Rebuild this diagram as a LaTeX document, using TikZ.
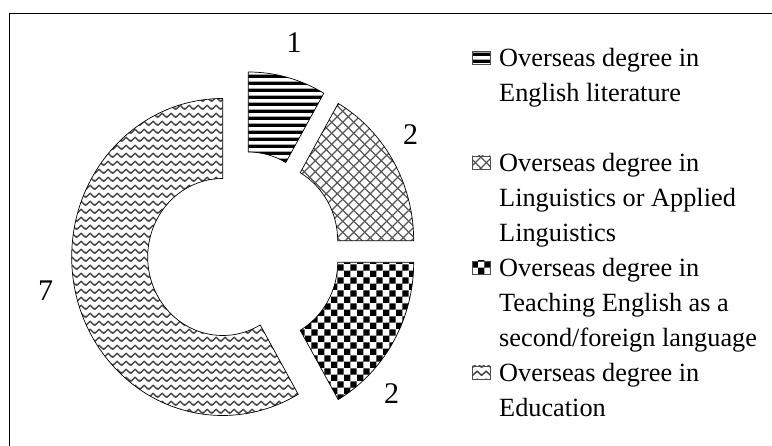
\documentclass[tikz,border=0pt]{standalone}
\usepackage{fontspec}
\setmainfont{Liberation Serif}
\usetikzlibrary{patterns}

\pgfdeclarepatternformonly{hstripes}{\pgfpoint{0pt}{0pt}}{\pgfpoint{8pt}{6.6pt}}{\pgfpoint{8pt}{6.6pt}}{%
  \pgfpathrectangle{\pgfpoint{-1pt}{0pt}}{\pgfpoint{10pt}{3.6pt}}\pgfusepath{fill}}
\pgfdeclarepatternformonly{xhatch}{\pgfpoint{0pt}{0pt}}{\pgfpoint{10.7pt}{10.7pt}}{\pgfpoint{10.7pt}{10.7pt}}{%
  \pgfsetlinewidth{1.3pt}%
  \pgfpathmoveto{\pgfpoint{-1pt}{-1pt}}\pgfpathlineto{\pgfpoint{11.7pt}{11.7pt}}%
  \pgfpathmoveto{\pgfpoint{-1pt}{11.7pt}}\pgfpathlineto{\pgfpoint{11.7pt}{-1pt}}%
  \pgfusepath{stroke}}
\pgfdeclarepatternformonly{checks}{\pgfpoint{0pt}{0pt}}{\pgfpoint{13.3pt}{13.3pt}}{\pgfpoint{13.3pt}{13.3pt}}{%
  \pgfpathrectangle{\pgfpoint{0pt}{0pt}}{\pgfpoint{6.65pt}{6.65pt}}%
  \pgfpathrectangle{\pgfpoint{6.65pt}{6.65pt}}{\pgfpoint{6.65pt}{6.65pt}}%
  \pgfusepath{fill}}
\pgfdeclarepatternformonly{zigzag}{\pgfpoint{0pt}{0pt}}{\pgfpoint{8.6pt}{7.7pt}}{\pgfpoint{8.6pt}{7.7pt}}{%
  \pgfsetlinewidth{1.5pt}%
  \pgfpathmoveto{\pgfpoint{-4.3pt}{5.8pt}}%
  \pgfpathlineto{\pgfpoint{0pt}{1.9pt}}%
  \pgfpathlineto{\pgfpoint{4.3pt}{5.8pt}}%
  \pgfpathlineto{\pgfpoint{8.6pt}{1.9pt}}%
  \pgfpathlineto{\pgfpoint{12.9pt}{5.8pt}}%
  \pgfusepath{stroke}}

\newcommand\ringseg[4]{%
  ([shift={(#1pt,#2pt)}]#3:151pt and 158.5pt)
  arc[start angle=#3,end angle=#4,x radius=151pt,y radius=158.5pt]
  -- ([shift={(#1pt,#2pt)}]#4:75pt and 78.5pt)
  arc[start angle=#4,end angle=#3,x radius=75pt,y radius=78.5pt] -- cycle}

\tikzset{
  seg/.style={draw=black,line width=0.7pt},
  fillA/.style={pattern=hstripes,pattern color=black},
  fillB/.style={pattern=xhatch,pattern color=black!66},
  fillC/.style={pattern=checks,pattern color=black},
  fillD/.style={pattern=zigzag,pattern color=black!72},
  key/.style={draw=black!70,line width=0.6pt},
  lg/.style={anchor=base west,inner sep=0pt,font=\fontsize{26.3}{35}\selectfont},
  num/.style={inner sep=0pt,font=\fontsize{30}{36}\selectfont}
}

\begin{document}
\begin{tikzpicture}[x=1pt,y=1pt]
\useasboundingbox (0,0) rectangle (772,446);
\draw[line width=1pt] (9.3,-10) rectangle (790,432.7);

% donut segments
\path[seg,fillA] \ringseg{248.3}{215.5}{60}{90};
\path[seg,fillB] \ringseg{262.7}{205.3}{0}{60};
\path[seg,fillC] \ringseg{262.7}{183.7}{-60}{0};
\path[seg,fillD] \ringseg{222.7}{189}{90}{300};

% value labels
\node[num] (v1) at (294,403.5) {1};
\node[num] (v2) at (410.5,311.5) {2};
\node[num] (v3) at (391.7,52) {2};
\node[num] (v4) at (45.5,155.2) {7};

% legend
\path[key,fillA] (472,382) rectangle (490,395);
\node[lg] (l1a) at (499,379) {Overseas degree in};
\node[lg] (l1b) at (499,344) {English literature};

\path[key,fillB] (472,277) rectangle (490,290);
\node[lg] (l2a) at (499,274) {Overseas degree in};
\node[lg] (l2b) at (499,239) {Linguistics or Applied};
\node[lg] (l2c) at (499,204) {Linguistics};

\path[key,fillC] (472,172) rectangle (490,185);
\node[lg] (l3a) at (499,169) {Overseas degree in};
\node[lg] (l3b) at (499,134) {Teaching English as a};
\node[lg] (l3c) at (499,99) {second/foreign language};

\path[key,fillD] (472,67) rectangle (490,80);
\node[lg] (l4a) at (499,64) {Overseas degree in};
\node[lg] (l4b) at (499,29) {Education};
\end{tikzpicture}
\end{document}
